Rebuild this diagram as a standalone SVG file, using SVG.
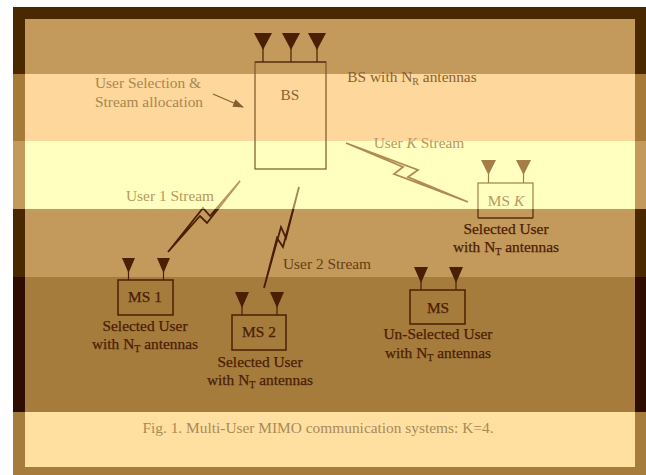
<svg xmlns="http://www.w3.org/2000/svg" width="646" height="475" viewBox="0 0 646 475">
<style>
text{font-family:"Liberation Serif","Times New Roman",serif;font-size:15.4px;text-anchor:middle}
.d{fill:#4a2005}.m{fill:#8a6230}.l{fill:#a98652}.f{fill:#b9985f}.c{fill:#a88a58}.s{fill:#65400f}
text.d{stroke:#4a2005;stroke-width:.25}
.sub{font-size:10px}
.box{fill:none;stroke-width:1.5}
.ant{stroke-width:1.2}
.bolt{stroke-width:1.8;stroke-linejoin:miter;fill:none}
</style>
<defs>
<marker id="ah" markerWidth="11" markerHeight="8" refX="10" refY="4" orient="auto" markerUnits="userSpaceOnUse"><path d="M0 0L11 4L0 8Z" fill="#84622e"/></marker>
<clipPath id="upper"><rect x="0" y="0" width="646" height="209"/></clipPath>
<clipPath id="lower"><rect x="0" y="209" width="646" height="266"/></clipPath>
<path id="bolt1" d="M240 181L210 216L203 208L168 252L200 216L207 223Z"/>
<path id="bolt2" d="M299 187L286 238L281 227L264 288L277 238L283 247Z"/>
</defs>
<rect width="646" height="475" fill="#fff"/>
<g id="background">
<rect x="13" y="7" width="633" height="67" fill="#4a2800"/>
<rect x="13" y="74" width="633" height="67" fill="#a67a38"/>
<rect x="13" y="141" width="633" height="68" fill="#c49a5c"/>
<rect x="13" y="209" width="633" height="68" fill="#4a2800"/>
<rect x="13" y="277" width="633" height="135" fill="#2e0c00"/>
<rect x="13" y="412" width="633" height="63" fill="#a67c3c"/>
<rect x="25" y="19" width="610" height="55" fill="#c49a5c"/>
<rect x="25" y="74" width="610" height="67" fill="#fdd79b"/>
<rect x="25" y="141" width="610" height="68" fill="#ffffc0"/>
<rect x="25" y="209" width="610" height="68" fill="#c49a5c"/>
<rect x="25" y="277" width="610" height="135" fill="#a67c3c"/>
<rect x="25" y="412" width="610" height="55" fill="#ffe0a0"/>
</g>
<g id="connectors">
<g clip-path="url(#lower)">
<use href="#bolt1" class="bolt" stroke="#4a2005"/>
<use href="#bolt2" class="bolt" stroke="#4a2005"/>
</g>
<g clip-path="url(#upper)">
<use href="#bolt1" class="bolt" stroke="#b9985f"/>
<use href="#bolt2" class="bolt" stroke="#a98652"/>
</g>
<path d="M346 143L403 167L394 174L468 202L408 177L418 170Z" class="bolt" stroke="#b08a50"/>
<path d="M213 94L243 107" stroke="#84622e" stroke-width="1.2" fill="none" marker-end="url(#ah)"/>
</g>
<g id="bs">
<rect x="255" y="62" width="71" height="107" fill="none" stroke="#7a5628" stroke-width="1.2"/>
<path d="M255 62H326" stroke="#4a2005" stroke-width="1.2"/>
<path d="M254 33H272L263 50Z" class="d"/><path d="M282 33H300L291 50Z" class="d"/><path d="M308 33H326L317 50Z" class="d"/>
<path d="M263 48V62M291 48V62M317 48V62" stroke="#4a2005" class="ant"/>
<text x="290" y="100" class="m">BS</text>
</g>
<g id="ms-1">
<rect x="118" y="280" width="55" height="35" fill="none" stroke="#4a2005" class="box"/>
<path d="M122 258H135L128.500 273Z" class="d"/><path d="M157 258H170L163.500 273Z" class="d"/>
<path d="M128.500 270V280M163.500 270V280" stroke="#4a2005" class="ant"/>
<text x="145" y="302" class="d">MS 1</text>
<text x="145" y="331" class="d">Selected User</text>
<text x="145" y="349" class="d">with N<tspan class="sub" dy="3">T</tspan><tspan dy="-3"> antennas</tspan></text>
</g>
<g id="ms-2">
<rect x="232" y="315" width="54" height="35" fill="none" stroke="#4a2005" class="box"/>
<path d="M235 292H249L242 308Z" class="d"/><path d="M270 292H284L277 308Z" class="d"/>
<path d="M242 305V315M277 305V315" stroke="#4a2005" class="ant"/>
<text x="259" y="337" class="d">MS 2</text>
<text x="260" y="367" class="d">Selected User</text>
<text x="260" y="385" class="d">with N<tspan class="sub" dy="3">T</tspan><tspan dy="-3"> antennas</tspan></text>
</g>
<g id="ms-k">
<rect x="478" y="183" width="55" height="35" fill="none" stroke="#a47f45" stroke-width="1.2"/>
<path d="M478 218V209M533 218V209" stroke="#5a3510" stroke-width="1.2"/>
<path d="M478 218H533" stroke="#5a3510" stroke-width="1.5"/>
<path d="M481 160H496L488.500 175Z" fill="#a47f45"/><path d="M516 160H531L523.500 175Z" fill="#a47f45"/>
<path d="M488.500 172V183M523.500 172V183" stroke="#a47f45" class="ant"/>
<text x="506" y="206" class="f">MS <tspan font-style="italic">K</tspan></text>
<text x="506" y="234" class="d">Selected User</text>
<text x="506" y="252" class="d">with N<tspan class="sub" dy="3">T</tspan><tspan dy="-3"> antennas</tspan></text>
</g>
<g id="ms">
<rect x="410" y="290" width="55" height="34" fill="none" stroke="#4a2005" class="box"/>
<path d="M414 267H428L421 283Z" class="d"/><path d="M449 267H463L456 283Z" class="d"/>
<path d="M421 280V290M456 280V290" stroke="#4a2005" class="ant"/>
<text x="438" y="313" class="d">MS</text>
<text x="438" y="339" class="d">Un-Selected User</text>
<text x="438" y="358" class="d">with N<tspan class="sub" dy="3">T</tspan><tspan dy="-3"> antennas</tspan></text>
</g>
<g id="labels">
<text x="148" y="88" class="l">User Selection &amp;</text>
<text x="149" y="107" class="l">Stream allocation</text>
<text x="412" y="82" class="m">BS with N<tspan class="sub" dy="3">R</tspan><tspan dy="-3"> antennas</tspan></text>
<text x="419" y="148" class="f">User <tspan font-style="italic">K</tspan> Stream</text>
<text x="170" y="201" class="f">User 1 Stream</text>
<text x="327" y="269" class="s">User 2 Stream</text>
<text x="318" y="433" class="c">Fig. 1. Multi-User MIMO communication systems: K=4.</text>
</g>
</svg>
